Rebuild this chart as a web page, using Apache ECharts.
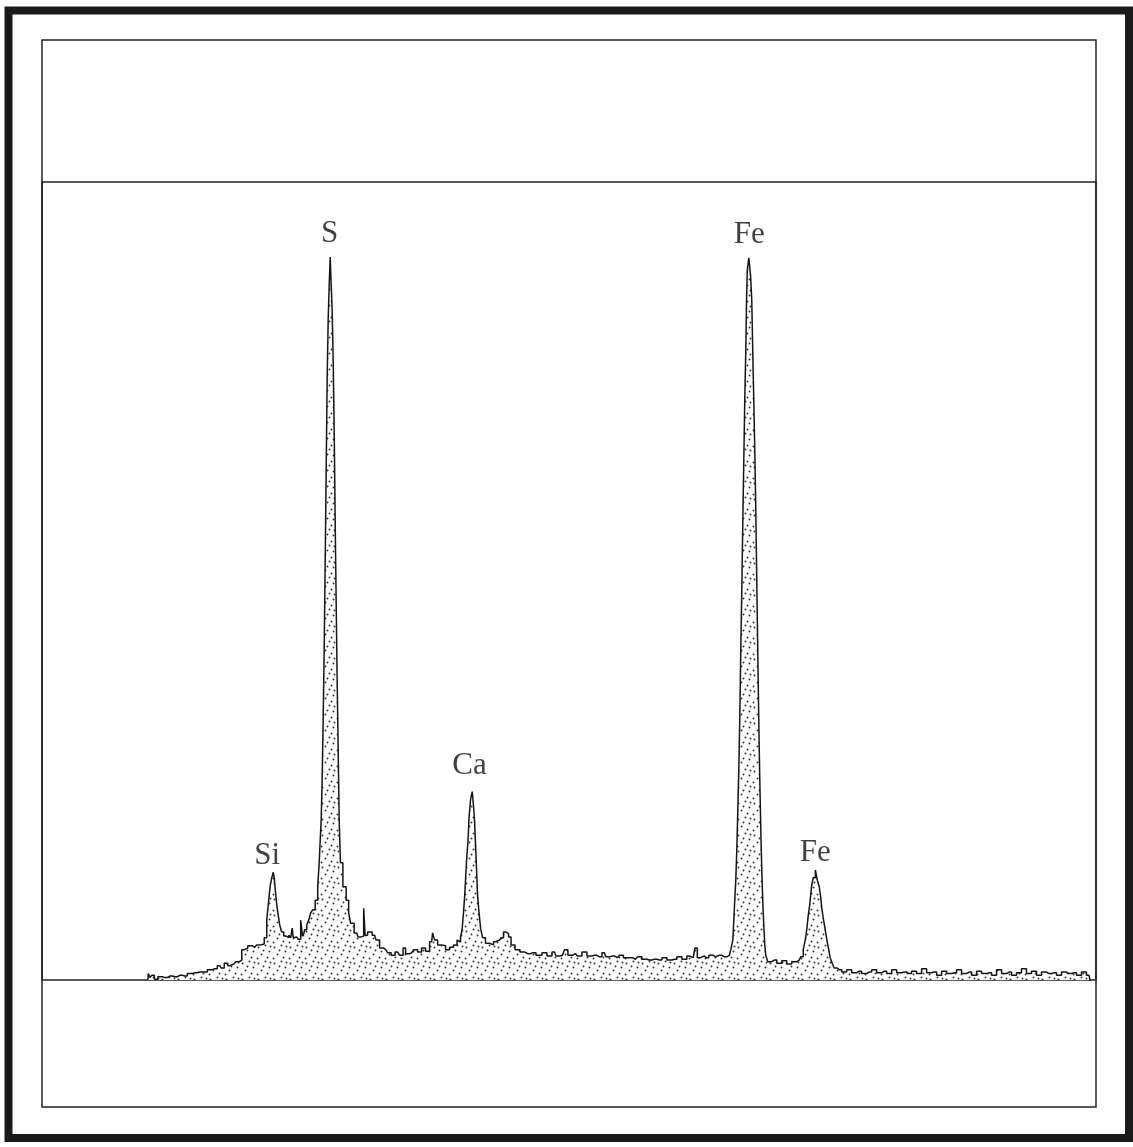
<!DOCTYPE html>
<html>
  <head>
    <meta charset="utf-8" />
    <title>EDX spectrum</title>
    <script src="https://cdn.jsdelivr.net/npm/echarts@6/dist/echarts.min.js"></script>
  </head>
  <body style="margin: 0; background: #fff">
    <div id="spec" style="width: 1133px; height: 1147px"></div>
    <script type="text/javascript">
      // energy (keV) and counts
      var energy = [
        0.516, 0.526, 0.546, 0.565, 0.595, 0.634, 0.683, 0.732, 0.781, 0.83, 0.878, 0.927, 0.976, 1.025, 1.074,
        1.123, 1.172, 1.221, 1.25, 1.279, 1.319, 1.358, 1.397, 1.426, 1.446, 1.475, 1.514, 1.563, 1.602, 1.641,
        1.671, 1.69, 1.71, 1.72, 1.739, 1.749, 1.759, 1.769, 1.788, 1.798, 1.817, 1.837, 1.857, 1.886, 1.906,
        1.925, 1.935, 1.945, 1.974, 2.003, 2.023, 2.033, 2.042, 2.062, 2.082, 2.101, 2.121, 2.14, 2.17, 2.189,
        2.199, 2.209, 2.218, 2.228, 2.238, 2.248, 2.258, 2.267, 2.277, 2.287, 2.297, 2.307, 2.316, 2.326, 2.336,
        2.346, 2.355, 2.365, 2.375, 2.385, 2.395, 2.409, 2.443, 2.473, 2.492, 2.512, 2.561, 2.59, 2.62, 2.639,
        2.649, 2.688, 2.737, 2.766, 2.805, 2.845, 2.884, 2.913, 2.962, 3.001, 3.03, 3.05, 3.099, 3.138, 3.177,
        3.216, 3.255, 3.295, 3.314, 3.334, 3.373, 3.412, 3.451, 3.49, 3.529, 3.559, 3.568, 3.588, 3.598, 3.617,
        3.627, 3.647, 3.656, 3.666, 3.686, 3.699, 3.71, 3.72, 3.73, 3.74, 3.749, 3.764, 3.784, 3.803, 3.842,
        3.881, 3.921, 3.96, 3.989, 4.009, 4.038, 4.058, 4.087, 4.136, 4.185, 4.234, 4.282, 4.351, 4.4, 4.449,
        4.498, 4.527, 4.576, 4.615, 4.644, 4.703, 4.742, 4.791, 4.84, 4.889, 4.938, 4.987, 5.016, 5.065, 5.114,
        5.153, 5.192, 5.231, 5.29, 5.329, 5.378, 5.427, 5.476, 5.525, 5.574, 5.623, 5.672, 5.721, 5.77, 5.818,
        5.857, 5.887, 5.906, 5.945, 5.985, 6.033, 6.073, 6.112, 6.161, 6.21, 6.239, 6.249, 6.258, 6.268, 6.278,
        6.288, 6.298, 6.307, 6.317, 6.327, 6.337, 6.347, 6.356, 6.366, 6.376, 6.381, 6.391, 6.41, 6.425, 6.434,
        6.444, 6.454, 6.464, 6.474, 6.483, 6.493, 6.503, 6.513, 6.523, 6.532, 6.542, 6.552, 6.562, 6.571, 6.601,
        6.65, 6.699, 6.748, 6.797, 6.845, 6.894, 6.924, 6.943, 6.963, 6.973, 6.992, 7.002, 7.012, 7.021, 7.041,
        7.063, 7.08, 7.1, 7.109, 7.119, 7.139, 7.158, 7.178, 7.188, 7.207, 7.227, 7.246, 7.286, 7.334, 7.383,
        7.432, 7.481, 7.53, 7.579, 7.628, 7.677, 7.726, 7.775, 7.824, 7.873, 7.921, 7.97, 8.019, 8.068, 8.117,
        8.166, 8.215, 8.264, 8.313, 8.362, 8.411, 8.459, 8.508, 8.558, 8.606, 8.655, 8.704, 8.753, 8.802, 8.851,
        8.9, 8.949, 8.997, 9.046, 9.095, 9.144, 9.193, 9.242, 9.291, 9.34, 9.389, 9.438, 9.487, 9.536, 9.585,
        9.634, 9.682, 9.731, 9.751
      ];
      var counts = [
        0, 8, 3, 6, 1, 4, 3, 5, 4, 6, 5, 8, 9, 10, 10,
        13, 14, 18, 15, 21, 18, 20, 23, 25, 38, 40, 43, 41, 44, 45,
        53, 75, 100, 119, 128, 135, 128, 113, 94, 81, 69, 60, 55, 53, 56,
        53, 65, 53, 54, 51, 75, 58, 55, 63, 69, 75, 84, 88, 100, 117,
        147, 175, 200, 251, 326, 414, 526, 639, 752, 827, 871, 906, 871, 840, 777,
        689, 576, 476, 376, 288, 200, 147, 117, 100, 84, 71, 59, 54, 55, 90,
        56, 60, 56, 50, 40, 38, 34, 31, 35, 31, 40, 33, 34, 38, 35,
        40, 36, 48, 59, 50, 44, 43, 38, 41, 44, 50, 48, 54, 63, 85,
        113, 150, 175, 203, 226, 236, 219, 200, 169, 138, 107, 88, 65, 53, 46,
        44, 48, 50, 53, 60, 58, 54, 44, 38, 35, 33, 34, 31, 34, 30,
        35, 30, 31, 38, 31, 33, 30, 35, 30, 31, 29, 34, 29, 30, 28,
        31, 28, 28, 26, 29, 26, 25, 26, 25, 28, 25, 26, 29, 26, 30,
        28, 40, 28, 30, 28, 31, 29, 31, 29, 31, 38, 50, 75, 100, 125,
        163, 213, 263, 326, 414, 489, 576, 652, 727, 789, 852, 890, 905, 883, 852,
        789, 727, 664, 589, 501, 414, 326, 251, 188, 138, 100, 69, 44, 31, 23,
        25, 21, 24, 20, 23, 25, 29, 38, 50, 63, 81, 94, 107, 119, 128,
        138, 125, 117, 104, 91, 78, 63, 48, 38, 28, 21, 15, 13, 10, 13,
        9, 11, 8, 10, 13, 9, 11, 8, 13, 9, 10, 8, 11, 8, 14,
        9, 10, 6, 11, 8, 9, 13, 8, 10, 6, 11, 8, 9, 6, 13,
        8, 10, 6, 9, 14, 8, 11, 6, 10, 8, 9, 6, 10, 8, 9,
        6, 10, 6, 0
      ];

      // element labels: name, energy, height (counts) of the text centre
      var peakNames = ["Si", "S", "Ca", "Fe", "Fe"];
      var peakLabelE = [1.685, 2.297, 3.666, 6.405, 7.05];
      var peakLabelC = [155, 935, 268, 934, 159];

      var chart = echarts.init(document.getElementById("spec"));

      // stipple fill for the area under the trace
      var dots = document.createElement("canvas");
      dots.width = 16;
      dots.height = 16;
      var ctx = dots.getContext("2d");
      ctx.fillStyle = "#fff";
      ctx.fillRect(0, 0, 16, 16);
      ctx.fillStyle = "#333";
      [[2, 3], [9, 1], [13, 7], [5, 10], [11, 13], [1, 14], [7, 6], [14, 2]].forEach(function (p) {
        ctx.beginPath();
        ctx.arc(p[0] + 0.5, p[1] + 0.5, 0.95, 0, Math.PI * 2);
        ctx.fill();
      });

      var specData = energy.map(function (e, i) {
        return [e, counts[i]];
      });
      var labelData = peakNames.map(function (n, i) {
        return { name: n, value: [peakLabelE[i], peakLabelC[i]] };
      });

      var option = {
        backgroundColor: "#fff",
        animation: false,
        grid: {
          left: 42,
          right: 37,
          top: 182,
          bottom: 167,
          show: true,
          borderColor: "#222",
          borderWidth: 1.5,
          backgroundColor: "transparent",
        },
        graphic: [
          {
            type: "rect",
            shape: { x: 8.5, y: 10.5, width: 1120.5, height: 1127.5 },
            style: { fill: "none", stroke: "#1a1a1a", lineWidth: 8 },
          },
          {
            type: "rect",
            shape: { x: 42, y: 40, width: 1054, height: 1067 },
            style: { fill: "none", stroke: "#222", lineWidth: 1.5 },
          },
        ],
        xAxis: {
          type: "value",
          min: -0.52,
          max: 9.8,
          axisLine: { show: false },
          axisTick: { show: false },
          axisLabel: { show: false },
          splitLine: { show: false },
        },
        yAxis: {
          type: "value",
          min: 0,
          max: 1000,
          axisLine: { show: false },
          axisTick: { show: false },
          axisLabel: { show: false },
          splitLine: { show: false },
        },
        series: [
          {
            type: "line",
            data: specData,
            step: "middle",
            symbol: "none",
            sampling: "none",
            lineStyle: { color: "#151515", width: 1.5 },
            areaStyle: { color: { image: dots, repeat: "repeat" }, opacity: 1 },
          },
          {
            type: "scatter",
            data: labelData,
            symbolSize: 1,
            itemStyle: { color: "rgba(0,0,0,0)" },
            label: {
              show: true,
              position: "inside",
              formatter: "{b}",
              fontFamily: "Liberation Serif",
              fontSize: 31,
              color: "#111",
            },
          },
        ],
      };
      chart.setOption(option);
    </script>
  </body>
</html>
